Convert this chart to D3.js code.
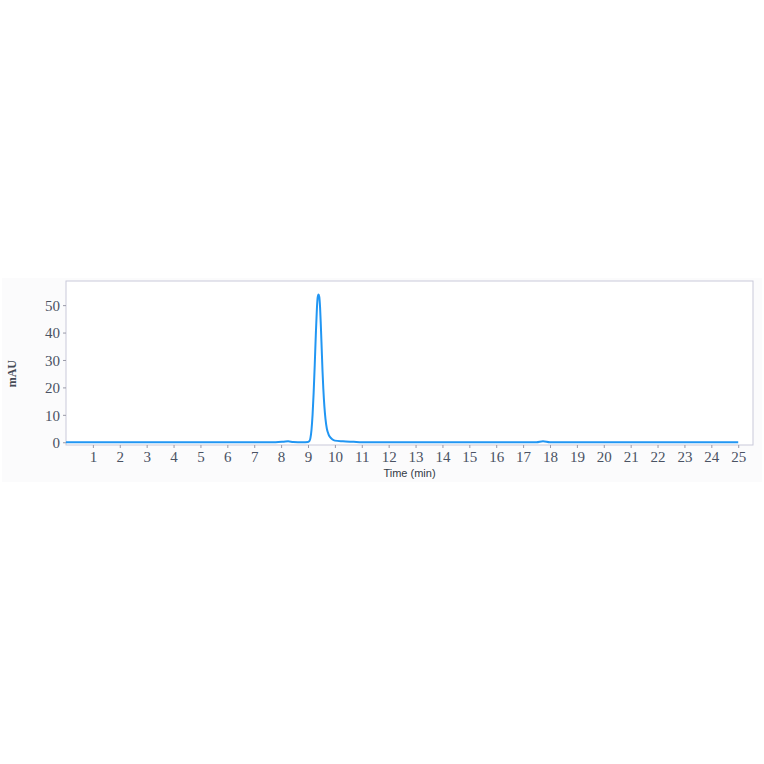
<!DOCTYPE html>
<html>
<head>
<meta charset="utf-8">
<script src="https://cdn.jsdelivr.net/npm/d3@7"></script>
<style>
  body { margin: 0; background: #ffffff; }
  .tick text { font-family: "Liberation Serif", "DejaVu Serif", serif; font-size: 15px; fill: #4a5263; }
  .axis path { display: none; }
  .axis line { stroke: #9a9aa8; }
</style>
</head>
<body>
<div id="chart"></div>
<script>
// chromatogram trace, time in minutes, absorbance in mAU
var times = [0, 2, 4, 6, 7.8, 8.1, 8.26, 8.45, 8.8, 9.0, 9.05, 9.09, 9.13, 9.17, 9.21, 9.25, 9.29, 9.33, 9.36, 9.39, 9.42, 9.45, 9.48, 9.51, 9.54, 9.57, 9.61, 9.65, 9.7, 9.76, 9.83, 9.9, 10.0, 10.3, 10.7, 11.0, 13, 15, 17.5, 17.74, 18.0, 20, 22, 24, 25];
var mau   = [0, 0, 0, 0, 0,   0.2, 0.35, 0.1,  0,   0.1, 0.4,  1.5,  4.5,  10,   18,   28,   39,   48.5, 52.8, 53.9, 53.0, 49,   42,   34,   26,   19.5, 13,   8.5,  5,    3,    1.8,  1.1, 0.6,  0.35, 0.15, 0,   0,  0,  0,    0.35,  0,    0,  0,  0,  0];
var yTicks = [0, 10, 20, 30, 40, 50];
var xTicks = [1, 2, 3, 4, 5, 6, 7, 8, 9, 10, 11, 12, 13, 14, 15, 16, 17, 18, 19, 20, 21, 22, 23, 24, 25];

var margin = { top: 281, right: 11, bottom: 319, left: 66 };
var width = 764 - margin.left - margin.right;
var height = 764 - margin.top - margin.bottom;

var trace = times.map(function(t, i) {
    return { t: t, v: mau[i] };
});

var svgRoot = d3.select("#chart")
    .append("svg")
    .attr("width", 764)
    .attr("height", 764);

// faint panel behind the chart
svgRoot.append("rect")
    .attr("x", 2)
    .attr("y", 278)
    .attr("width", 760)
    .attr("height", 204)
    .attr("fill", "#fbfbfc");

var svg = svgRoot.append("g")
    .attr("transform", "translate(" + margin.left + "," + margin.top + ")");

var x = d3.scaleLinear()
    .domain([0, 25.55])
    .range([0, width]);

var y = d3.scaleLinear()
    .domain([-1, 58.8])
    .range([height, 0]);

svg.append("rect")
    .attr("width", width)
    .attr("height", height)
    .attr("fill", "#ffffff")
    .attr("stroke", "#c9c9d9")
    .attr("stroke-width", 1);

svg.append("g")
    .attr("class", "axis x")
    .attr("transform", "translate(0," + height + ")")
    .call(d3.axisBottom(x).tickValues(xTicks).tickSize(3).tickPadding(3).tickFormat(d3.format("d")));

svg.append("g")
    .attr("class", "axis y")
    .call(d3.axisLeft(y).tickValues(yTicks).tickSize(3).tickPadding(3).tickFormat(d3.format("d")));

svg.selectAll(".y .tick text").attr("dy", "0.35em");

var line = d3.line()
    .x(function(d) { return x(d.t); })
    .y(function(d) { return y(d.v); })
    .curve(d3.curveMonotoneX);

svg.append("path")
    .datum(trace)
    .attr("d", line)
    .attr("fill", "none")
    .attr("stroke", "#2196f3")
    .attr("stroke-width", 2)
    .attr("stroke-linejoin", "round");

svg.append("text")
    .attr("x", width / 2)
    .attr("y", height + 32)
    .attr("text-anchor", "middle")
    .style("font-family", "'Liberation Sans', Arial, sans-serif")
    .style("font-size", "11px")
    .style("fill", "#333a45")
    .text("Time (min)");

svg.append("text")
    .attr("transform", "rotate(-90)")
    .attr("x", -(y(25)))
    .attr("y", -50)
    .attr("text-anchor", "middle")
    .style("font-family", "'Liberation Serif', serif")
    .style("font-size", "12px")
    .style("font-weight", "bold")
    .style("fill", "#444a55")
    .text("mAU");
</script>
</body>
</html>
